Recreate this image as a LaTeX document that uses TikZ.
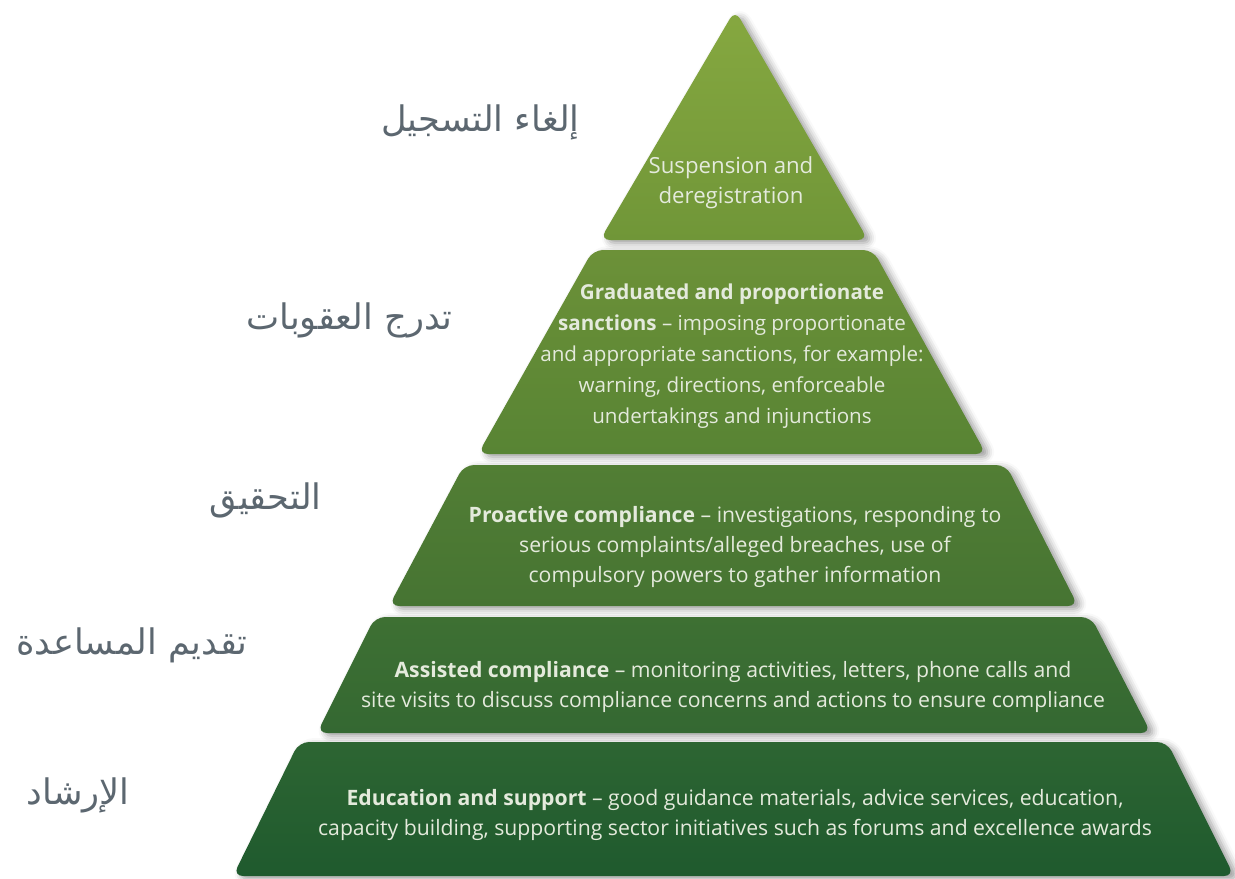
\documentclass[tikz,border=0pt]{standalone}
\usepackage{fontspec}
\usetikzlibrary{shadows.blur}
\setmainfont{Open Sans}
\newfontfamily\arabicfont[Script=Arabic]{DejaVu Sans}
\TeXXeTstate=1

\definecolor{tieratop}{RGB}{134,168,64}
\definecolor{tierabot}{RGB}{112,150,56}
\definecolor{tierbtop}{RGB}{108,145,56}
\definecolor{tierbbot}{RGB}{88,132,52}
\definecolor{tierctop}{RGB}{82,126,52}
\definecolor{tiercbot}{RGB}{70,116,51}
\definecolor{tierdtop}{RGB}{62,112,51}
\definecolor{tierdbot}{RGB}{52,104,50}
\definecolor{tieretop}{RGB}{45,101,50}
\definecolor{tierebot}{RGB}{31,90,46}
\definecolor{tiertxt}{RGB}{228,234,220}
\definecolor{arabgray}{RGB}{92,103,112}

\begin{document}
\begin{tikzpicture}
[x=0.5pt,y=-0.5pt,
 tier/.style={rounded corners=5pt,
   blur shadow={shadow xshift=2.5pt,shadow yshift=-1.5pt,shadow blur radius=3.5pt,shadow opacity=40}},
 tiertext/.style={text=tiertxt,align=center,font=\fontsize{10.6}{15}\selectfont},
 arlabel/.style={anchor=east,inner sep=0pt,text=arabgray,font=\arabicfont\fontsize{17.6}{19}\selectfont}]

  \useasboundingbox (0,0) rectangle (1235,878);

  % pyramid tiers, top to bottom
  \path[tier,top color=tieratop,bottom color=tierabot]
    (735,10) -- (868,240) -- (600,240) -- cycle;
  \path[tier,top color=tierbtop,bottom color=tierbbot]
    (593,250) -- (873,250) -- (986,454) -- (478,454) -- cycle;
  \path[tier,top color=tierctop,bottom color=tiercbot]
    (464,465) -- (1006,465) -- (1078,606) -- (389,606) -- cycle;
  \path[tier,top color=tierdtop,bottom color=tierdbot]
    (375,617) -- (1091,617) -- (1151,733) -- (317,733) -- cycle;
  \path[tier,top color=tieretop,bottom color=tierebot]
    (299,742) -- (1167,742) -- (1234,876) -- (233,876) -- cycle;

  % texts inside the tiers
  \node[tiertext,font=\fontsize{11.1}{15}\selectfont] (suspend) at (731,183)
    {Suspension and\\deregistration};
  \node[tiertext,font=\fontsize{10.3}{15.5}\selectfont] (sanction) at (732,356)
    {\textbf{Graduated and proportionate}\\
     \textbf{sanctions} -- imposing proportionate\\
     and appropriate sanctions, for example:\\
     warning, directions, enforceable\\
     undertakings and injunctions};
  \node[tiertext] (proactive) at (735,547)
    {\textbf{Proactive compliance} -- investigations, responding to\\
     serious complaints/alleged breaches, use of\\
     compulsory powers to gather information};
  \node[tiertext] (assisted) at (733,687)
    {\textbf{Assisted compliance} -- monitoring activities, letters, phone calls and\\
     site visits to discuss compliance concerns and actions to ensure compliance};
  \node[tiertext] (educate) at (735,815)
    {\textbf{Education and support} -- good guidance materials, advice services, education,\\
     capacity building, supporting sector initiatives such as forums and excellence awards};

  % arabic level names
  \node[arlabel] (lvlsuspend) at (580,122) {\beginR إلغاء التسجيل\endR};
  \node[arlabel] (lvlsanction) at (453,320) {\beginR تدرج العقوبات\endR};
  \node[arlabel] (lvlproactive) at (322,500) {\beginR التحقيق\endR};
  \node[arlabel] (lvlassisted) at (248,645) {\beginR تقديم المساعدة\endR};
  \node[arlabel] (lvleducate) at (130,795) {\beginR الإرشاد\endR};

\end{tikzpicture}
\end{document}
